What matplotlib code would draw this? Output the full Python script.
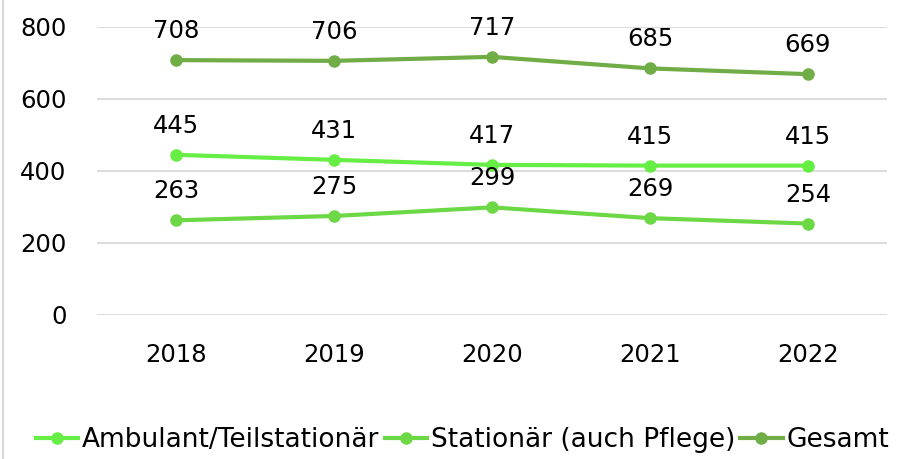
import matplotlib
matplotlib.use("Agg")
import matplotlib.pyplot as plt
from matplotlib.lines import Line2D

years = ["2018", "2019", "2020", "2021", "2022"]
ambulant = [445, 431, 417, 415, 415]
stationaer = [263, 275, 299, 269, 254]
gesamt = [708, 706, 717, 685, 669]
series_names = ["Ambulant/Teilstationär", "Stationär (auch Pflege)", "Gesamt"]
colors = ["#66EE44", "#6DD845", "#70AD47"]
yticks = [0, 200, 400, 600, 800]

plt.rcParams['font.family'] = ['DejaVu Sans']
W, H = 901, 459
fig = plt.figure(figsize=(W / 100, H / 100), dpi=100)
ax = fig.add_axes([97 / W, 1 - 315 / H, (887 - 97) / W, (315 - 27) / H])

x = list(range(len(years)))
for vals, c, name in zip([ambulant, stationaer, gesamt], colors, series_names):
    ax.plot(x, vals, color=c, lw=3, marker='o', ms=8, label=name, zorder=3,
            solid_capstyle='round')
    for xi, v in zip(x, vals):
        ax.annotate(str(v), (xi, v), xytext=(0, 29), textcoords='offset pixels',
                    ha='center', va='center', fontsize=17.5, color='#000000',
                    annotation_clip=False, zorder=4)

ax.set_xlim(-0.5, len(years) - 0.5)
ax.set_ylim(0, 800)
ax.set_yticks(yticks)
ax.set_yticklabels([str(t) for t in yticks])
ax.set_xticks(x)
ax.set_xticklabels(years)
ax.grid(axis='y', color='#D9D9D9', lw=1.3)
ax.set_axisbelow(True)
for s in ax.spines.values():
    s.set_visible(False)
ax.tick_params(axis='both', length=0, labelsize=17.5, colors='#000000')
ax.tick_params(axis='y', pad=22)
ax.tick_params(axis='x', pad=20)

handles = [Line2D([0], [0], color=c, lw=3, marker='o', ms=8) for c in colors]
fig.legend(handles, series_names, loc='center', bbox_to_anchor=(462.5 / W, 1 - 440 / H),
           ncol=3, frameon=False, fontsize=19, handlelength=1.6,
           handletextpad=0.15, columnspacing=0.2, borderpad=0)

fig.add_artist(Line2D([3 / W, 3 / W], [0, 1], color='#D9D9D9', lw=1.5,
                      transform=fig.transFigure))

fig.savefig("out.png", dpi=100, facecolor='white')
